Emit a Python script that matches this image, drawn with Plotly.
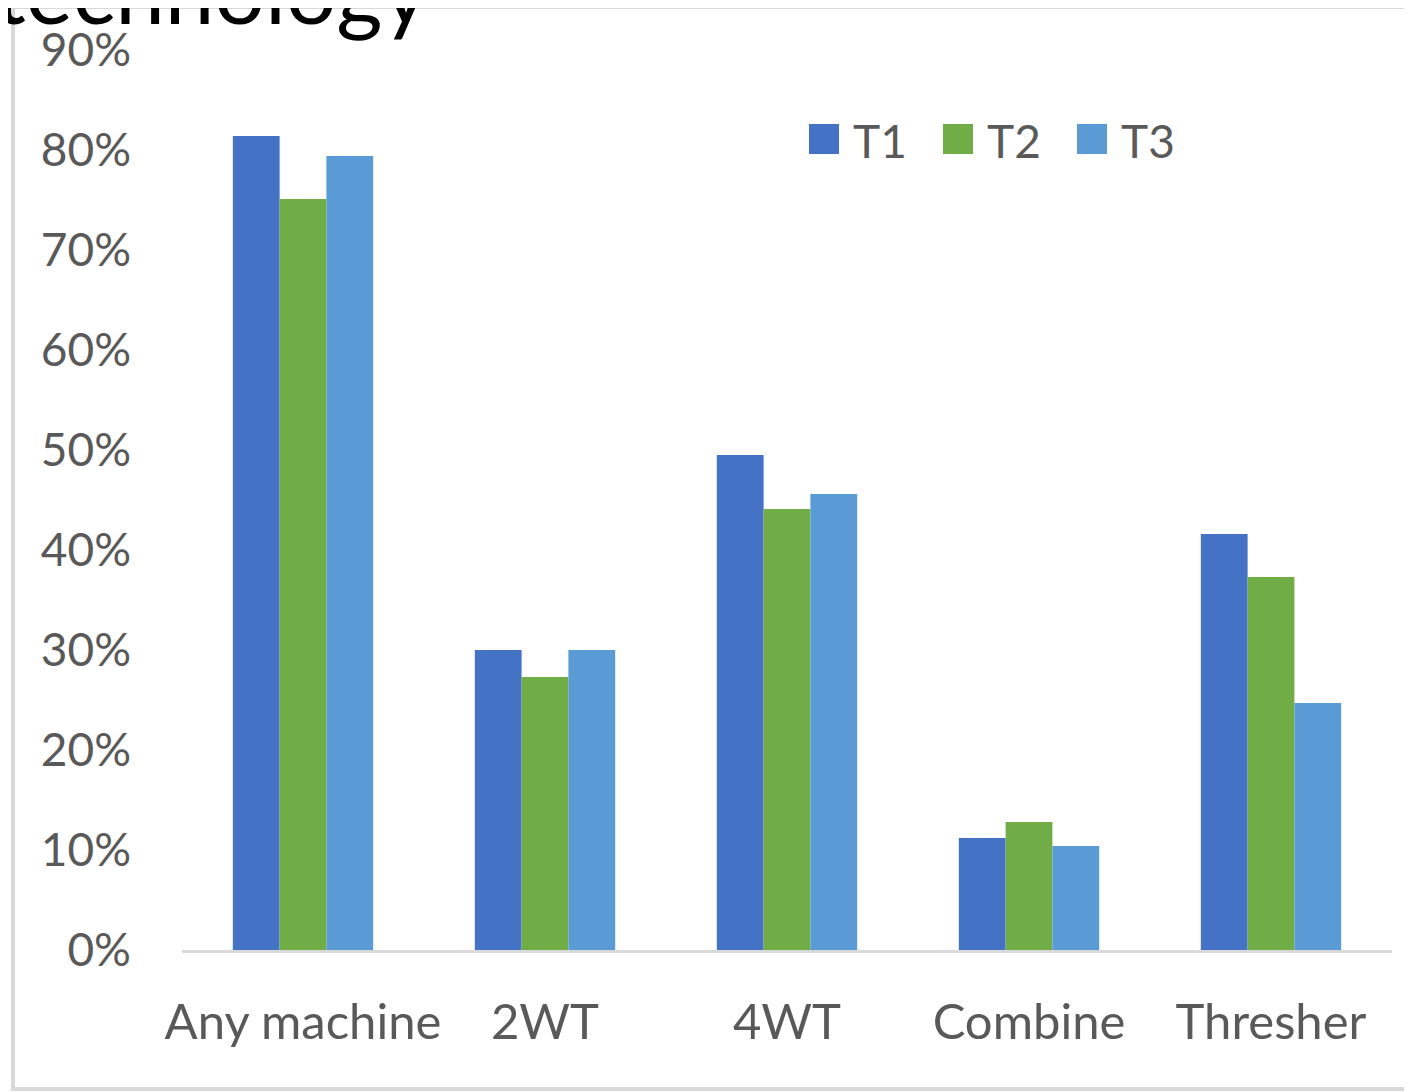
import plotly.graph_objects as go

categories = ["Any machine", "2WT", "4WT", "Combine", "Thresher"]
series_names = ["T1", "T2", "T3"]
t1 = [0.814, 0.300, 0.495, 0.112, 0.416]
t2 = [0.751, 0.273, 0.441, 0.128, 0.373]
t3 = [0.794, 0.300, 0.456, 0.104, 0.247]
colors = ["#4472C4", "#70AD47", "#5B9BD5"]
title_text = "technology"

W, H = 1412, 1092
OFF = 8  # page body margin offset
ML, MT = 182 - OFF, 50 - OFF
PW, PH = 1210, 900
MR, MB = W - ML - PW, H - MT - PH

def px(x):
    return (x - OFF - ML) / PW

def py(y):
    return (MT + PH - (y - OFF)) / PH

FONT = "Lato"
GRAY = "#595959"

fig = go.Figure()
for name, vals, col in zip(series_names, [t1, t2, t3], colors):
    fig.add_trace(go.Bar(x=categories, y=vals, name=name, marker_color=col,
                         marker_line_width=0, showlegend=False))

shapes = []
annotations = []
# chart frame
shapes.append(dict(type="rect", xref="paper", yref="paper",
                   x0=px(13), x1=px(1440), y0=py(1089), y1=py(7),
                   line=dict(color="#d9d9d9", width=4), fillcolor="rgba(0,0,0,0)", layer="below"))
# custom legend
leg_x = [809, 943, 1077]
for name, col, lx in zip(series_names, colors, leg_x):
    shapes.append(dict(type="rect", xref="paper", yref="paper",
                       x0=px(lx), x1=px(lx + 30), y0=py(154), y1=py(124),
                       fillcolor=col, line=dict(width=0)))
    annotations.append(dict(text=name, xref="paper", yref="paper",
                            x=px(lx + 42), y=py(140), xanchor="left", yanchor="middle",
                            showarrow=False, font=dict(family=FONT, size=46, color=GRAY)))
# title (cut off at top)
annotations.append(dict(text=title_text, xref="paper", yref="paper",
                        x=px(-8), y=py(45), xanchor="left", yanchor="bottom",
                        showarrow=False, font=dict(family=FONT, size=89, color="#000000")))

fig.update_layout(
    width=W, height=H,
    margin=dict(l=ML, r=MR, t=MT, b=MB),
    paper_bgcolor="white", plot_bgcolor="white",
    barmode="group", bargap=0.42, bargroupgap=0,
    font=dict(family=FONT, color=GRAY),
    shapes=shapes, annotations=annotations,
    showlegend=False,
)
fig.update_yaxes(range=[0, 0.9], dtick=0.1, tickformat=".0%", showgrid=False,
                 zeroline=False, showline=False, ticks="",
                 tickfont=dict(family=FONT, size=46, color=GRAY), ticklabelstandoff=50)
fig.update_xaxes(showline=True, linecolor="#d9d9d9", linewidth=3, ticks="",
                 tickfont=dict(family=FONT, size=49, color=GRAY), ticklabelstandoff=27)

fig.write_html("out.html")
